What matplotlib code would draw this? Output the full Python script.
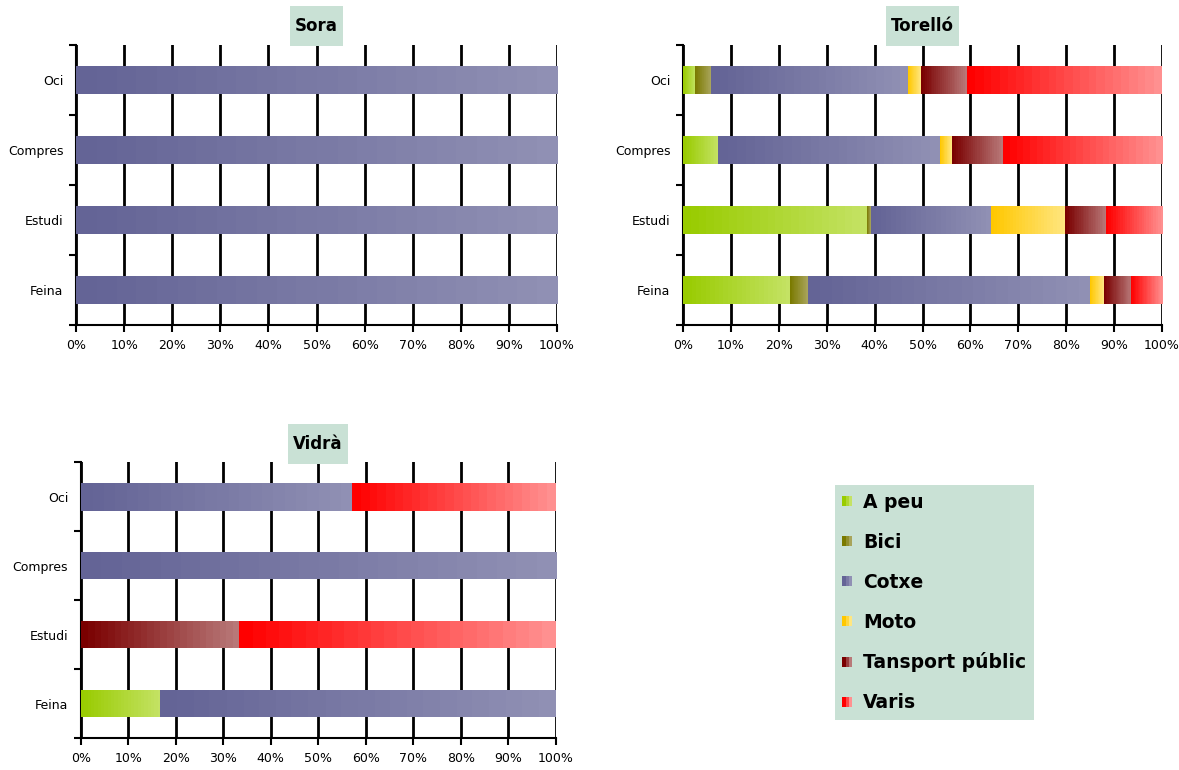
import numpy as np
import matplotlib
matplotlib.use("Agg")
import matplotlib.pyplot as plt
from matplotlib.colors import LinearSegmentedColormap, to_rgb
from matplotlib.patches import Rectangle
from matplotlib.legend_handler import HandlerBase

categories = ["Feina", "Estudi", "Compres", "Oci"]
modes = ["A peu", "Bici", "Cotxe", "Moto", "Tansport públic", "Varis"]

# percentatges per mode (files) i motiu (columnes: Feina, Estudi, Compres, Oci)
sora = [
    [0, 0, 0, 0],
    [0, 0, 0, 0],
    [100, 100, 100, 100],
    [0, 0, 0, 0],
    [0, 0, 0, 0],
    [0, 0, 0, 0],
]
torello = [
    [22.4, 38.5, 7.4, 2.6],
    [3.6, 0.7, 0.0, 3.2],
    [58.9, 25.0, 46.3, 41.2],
    [2.9, 15.5, 2.5, 2.7],
    [5.7, 8.6, 10.6, 9.6],
    [6.5, 11.7, 33.2, 40.7],
]
vidra = [
    [16.7, 0, 0, 0],
    [0, 0, 0, 0],
    [83.3, 0, 100, 57.1],
    [0, 0, 0, 0],
    [0, 33.3, 0, 0],
    [0, 66.7, 0, 42.9],
]

# colors inicial i final del degradat de cada mode
grad_start = ["#99cc00", "#7a7a00", "#646496", "#ffc800", "#7a0000", "#ff0000"]
grad_end = ["#c4e264", "#a8a45a", "#9090b4", "#ffe680", "#b87878", "#ff9090"]

box_color = "#c9e1d5"


def grad_bar(ax, y, left, width, c0, c1, height=0.4):
    if width <= 0:
        return
    bar = ax.barh(y, width, left=left, height=height, color="none",
                  edgecolor="none", zorder=3)[0]
    cmap = LinearSegmentedColormap.from_list("g", [c0, c1], N=24)
    img = ax.imshow(np.linspace(0, 1, 256).reshape(1, -1), cmap=cmap,
                    extent=[left, left + width, y - height / 2, y + height / 2],
                    aspect="auto", zorder=3, interpolation="nearest")
    img.set_clip_path(bar)


def draw_town(ax, name, data):
    data = np.array(data, dtype=float)
    data = data / data.sum(axis=0) * 100
    ypos = np.arange(len(categories))
    for j, y in enumerate(ypos):
        left = 0
        for i in range(len(modes)):
            grad_bar(ax, y, left, data[i, j], grad_start[i], grad_end[i])
            left += data[i, j]
    ax.set_xlim(0, 100)
    ax.set_ylim(-0.5, len(categories) - 0.5)
    ax.set_xticks(np.arange(0, 101, 10))
    ax.set_xticklabels([f"{v}%" for v in range(0, 101, 10)], fontsize=9)
    ax.set_yticks(np.arange(-0.5, len(categories), 1))
    ax.set_yticklabels([])
    ax.set_yticks(ypos, minor=True)
    ax.set_yticklabels(categories, minor=True, fontsize=9)
    ax.tick_params(axis="y", which="minor", length=0, pad=9)
    ax.tick_params(axis="y", which="major", length=5, width=1.5)
    ax.tick_params(axis="x", length=5, width=1.5, pad=5)
    ax.grid(axis="x", color="black", linewidth=2)
    ax.set_axisbelow(True)
    for s in ["top", "right"]:
        ax.spines[s].set_visible(False)
    for s in ["left", "bottom"]:
        ax.spines[s].set_linewidth(1.5)
    ax.annotate(name, xy=(0.5, 1.0), xycoords="axes fraction",
                xytext=(0, 7), textcoords="offset points",
                ha="center", va="bottom", fontsize=12, fontweight="bold",
                bbox=dict(boxstyle="square,pad=0.3", fc=box_color, ec="none",
                          mutation_aspect=2.2))


class GradHandler(HandlerBase):
    def __init__(self, c0, c1):
        super().__init__()
        self.c0, self.c1 = c0, c1

    def create_artists(self, legend, orig, xd, yd, w, h, fontsize, trans):
        a, b = np.array(to_rgb(self.c0)), np.array(to_rgb(self.c1))
        side = h * 0.7
        arts = []
        for k in range(3):
            col = a + (b - a) * k / 2
            arts.append(Rectangle((-xd + k * side / 3, -yd + (h - side) / 2),
                                  side / 3, side, fc=col, ec="none",
                                  transform=trans))
        return arts


fig = plt.figure(figsize=(11.79, 7.70), dpi=100)
ax1 = fig.add_axes([0.0645, 0.578, 0.408, 0.3636])
ax2 = fig.add_axes([0.5793, 0.578, 0.4063, 0.3636])
ax3 = fig.add_axes([0.0684, 0.0416, 0.4029, 0.358])

draw_town(ax1, "Sora", sora)
draw_town(ax2, "Torelló", torello)
draw_town(ax3, "Vidrà", vidra)

handles = [Rectangle((0, 0), 1, 1) for _ in modes]
leg = fig.legend(handles, modes, loc="upper left",
                 bbox_to_anchor=(835 / 1179, 1 - 485 / 770),
                 handler_map={h: GradHandler(grad_start[i], grad_end[i])
                              for i, h in enumerate(handles)},
                 prop=dict(size=13.5, weight="bold"), frameon=True,
                 fancybox=False, facecolor=box_color, edgecolor="none",
                 framealpha=1, labelspacing=1.12, handlelength=0.55,
                 handletextpad=0.55, borderpad=0.4, borderaxespad=0)
leg.get_frame().set_boxstyle("square", pad=0)

fig.savefig("out.png", dpi=100)
